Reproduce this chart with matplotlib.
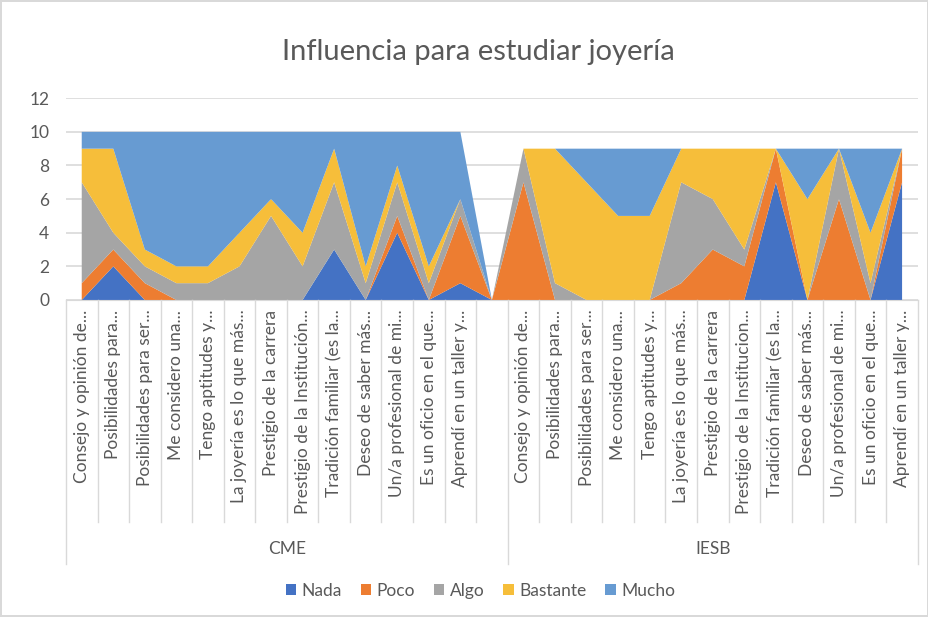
import numpy as np
import matplotlib
matplotlib.use('Agg')
import matplotlib.pyplot as plt
import matplotlib.transforms as mtransforms
from matplotlib.patches import Patch

plt.rcParams['font.family'] = ['Lato', 'DejaVu Sans']

# categorias (CME lleva una columna vacia al final)
preguntas = ['Consejo y opinión de...', 'Posibilidades para...', 'Posibilidades para ser...',
             'Me considero una...', 'Tengo aptitudes y...', 'La joyería es lo que más...',
             'Prestigio de la carrera', 'Prestigio de la Institución...', 'Tradición familiar (es la...',
             'Deseo de saber más...', 'Un/a profesional de mi...', 'Es un oficio en el que...',
             'Aprendí en un taller y...']
preguntas_iesb = preguntas[:7] + ['Prestigio de la Institucion...'] + preguntas[8:]
grupos = ['CME', 'IESB']
etiquetas = preguntas + [''] + preguntas_iesb

series = ['Nada', 'Poco', 'Algo', 'Bastante', 'Mucho']
colores = ['#4472C4', '#ED7D31', '#A5A5A5', '#F6BE3A', '#679BD2']

# CME (13 + columna vacia) | IESB (13)
nada     = [0, 2, 0, 0, 0, 0, 0, 0, 3, 0, 4, 0, 1, 0,   0, 0, 0, 0, 0, 0, 0, 0, 7, 0, 0, 0, 7]
poco     = [1, 1, 1, 0, 0, 0, 0, 0, 0, 0, 1, 0, 4, 0,   7, 0, 0, 0, 0, 1, 3, 2, 2, 0, 6, 0, 2]
algo     = [6, 1, 1, 1, 1, 2, 5, 2, 4, 1, 2, 1, 1, 0,   2, 1, 0, 0, 0, 6, 3, 1, 0, 0, 3, 1, 0]
bastante = [2, 5, 1, 1, 1, 2, 1, 2, 2, 1, 1, 1, 0, 0,   0, 8, 7, 5, 5, 2, 3, 6, 0, 6, 0, 3, 0]
mucho    = [1, 1, 7, 8, 8, 6, 4, 6, 1, 8, 2, 8, 4, 0,   0, 0, 2, 4, 4, 0, 0, 0, 0, 3, 0, 5, 0]

x = np.arange(len(etiquetas))

fig = plt.figure(figsize=(9.29, 6.17), dpi=100)
fig.patch.set_edgecolor('#d9d9d9')
fig.patch.set_linewidth(1.5)
ax = fig.add_axes([0.071, 0.5138, 0.917, 0.327])

ax.stackplot(x, nada, poco, algo, bastante, mucho, colors=colores, labels=series, zorder=2)

ax.set_xlim(-0.5, len(etiquetas) - 0.5)
ax.set_ylim(0, 12)
ax.set_yticks(range(0, 13, 2))
ax.grid(axis='y', color='#d9d9d9', linewidth=1.2, zorder=0)
ax.set_axisbelow(True)
for s in ['top', 'right', 'left']:
    ax.spines[s].set_visible(False)
ax.spines['bottom'].set_color('#d9d9d9')
ax.tick_params(axis='y', length=0, pad=12, labelsize=12.5, labelcolor='#595959')

ax.set_xticks(x)
ax.set_xticklabels(etiquetas, rotation=90, fontsize=12.5, color='#595959')
ax.tick_params(axis='x', length=0, pad=7)

# lineas separadoras del eje de categorias
trans = mtransforms.blended_transform_factory(ax.transData, ax.transAxes)
n1 = len(preguntas) + 1
for b in np.arange(-0.5, len(etiquetas), 1.0):
    if b in (-0.5, n1 - 0.5, len(etiquetas) - 0.5):
        ax.plot([b, b], [0, -1.31], transform=trans, color='#d9d9d9', lw=1, clip_on=False)
    else:
        ax.plot([b, b], [0, -1.10], transform=trans, color='#d9d9d9', lw=1, clip_on=False)
ax.text((n1 - 1) / 2, -1.235, grupos[0], transform=trans, ha='center', va='center',
        fontsize=12.5, color='#595959')
ax.text(n1 + (len(etiquetas) - n1 - 1) / 2, -1.235, grupos[1], transform=trans, ha='center',
        va='center', fontsize=12.5, color='#595959')

fig.text(0.515, 0.916, 'Influencia para estudiar joyería', ha='center', va='center',
         fontsize=21, color='#595959')

handles = [Patch(facecolor=c, label=s) for c, s in zip(colores, series)]
fig.legend(handles=handles, loc='center', bbox_to_anchor=(0.517, 0.042), ncol=5, frameon=False,
           handlelength=0.6, handleheight=0.6, handletextpad=0.3, columnspacing=1.1,
           fontsize=12.5, labelcolor='#595959')

fig.savefig('out.png', dpi=100)
